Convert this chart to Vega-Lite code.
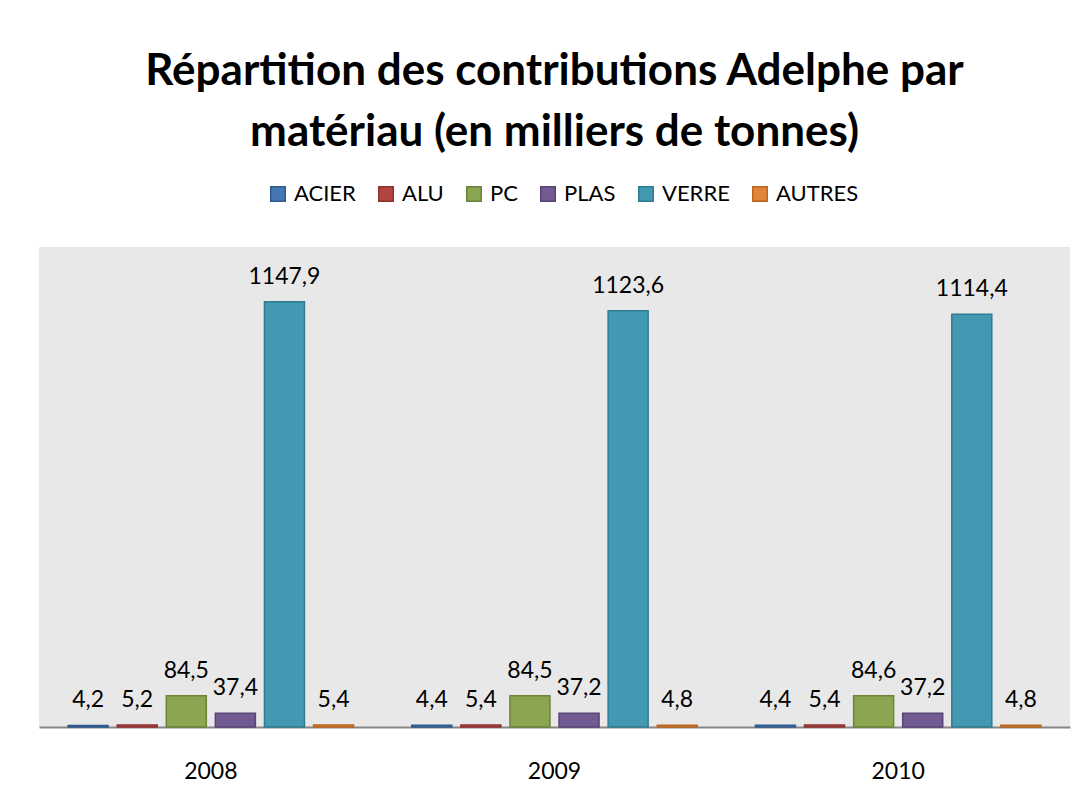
{
  "$schema": "https://vega.github.io/schema/vega-lite/v6.json",
  "width": 1031,
  "height": 480,
  "autosize": {"type": "none"},
  "padding": {"left": 39, "top": 247, "right": 19, "bottom": 82},
  "background": "white",
  "title": {
    "text": ["Répartition des contributions Adelphe par", "matériau (en milliers de tonnes)"],
    "font": "Lato",
    "fontSize": 44,
    "fontWeight": "bold",
    "color": "#000000",
    "lineHeight": 61,
    "anchor": "middle",
    "frame": "group",
    "offset": 28
  },
  "data": {
    "values": [
      {"annee": "2008", "materiau": "ACIER", "valeur": 4.2},
      {"annee": "2008", "materiau": "ALU", "valeur": 5.2},
      {"annee": "2008", "materiau": "PC", "valeur": 84.5},
      {"annee": "2008", "materiau": "PLAS", "valeur": 37.4},
      {"annee": "2008", "materiau": "VERRE", "valeur": 1147.9},
      {"annee": "2008", "materiau": "AUTRES", "valeur": 5.4},
      {"annee": "2009", "materiau": "ACIER", "valeur": 4.4},
      {"annee": "2009", "materiau": "ALU", "valeur": 5.4},
      {"annee": "2009", "materiau": "PC", "valeur": 84.5},
      {"annee": "2009", "materiau": "PLAS", "valeur": 37.2},
      {"annee": "2009", "materiau": "VERRE", "valeur": 1123.6},
      {"annee": "2009", "materiau": "AUTRES", "valeur": 4.8},
      {"annee": "2010", "materiau": "ACIER", "valeur": 4.4},
      {"annee": "2010", "materiau": "ALU", "valeur": 5.4},
      {"annee": "2010", "materiau": "PC", "valeur": 84.6},
      {"annee": "2010", "materiau": "PLAS", "valeur": 37.2},
      {"annee": "2010", "materiau": "VERRE", "valeur": 1114.4},
      {"annee": "2010", "materiau": "AUTRES", "valeur": 4.8}
    ]
  },
  "encoding": {
    "x": {
      "field": "annee",
      "type": "nominal",
      "scale": {"paddingInner": 0, "paddingOuter": 0},
      "axis": {
        "title": null,
        "labelAngle": 0,
        "ticks": false,
        "domainColor": "#868686",
        "domainWidth": 2,
        "labelFont": "Lato",
        "labelFontSize": 23,
        "labelColor": "#000000",
        "labelPadding": 33,
        "grid": false
      }
    },
    "xOffset": {
      "field": "materiau",
      "type": "nominal",
      "sort": ["ACIER", "ALU", "PC", "PLAS", "VERRE", "AUTRES"],
      "scale": {"paddingInner": 0.185, "paddingOuter": 0.593}
    },
    "y": {
      "field": "valeur",
      "type": "quantitative",
      "scale": {"domain": [0, 1296], "nice": false},
      "axis": null
    }
  },
  "layer": [
    {
      "mark": {"type": "bar", "strokeWidth": 1.5},
      "encoding": {
        "color": {
          "field": "materiau",
          "type": "nominal",
          "sort": ["ACIER", "ALU", "PC", "PLAS", "VERRE", "AUTRES"],
          "scale": {
            "domain": ["ACIER", "ALU", "PC", "PLAS", "VERRE", "AUTRES"],
            "range": ["#4677B3", "#B24542", "#8AA650", "#735A93", "#4399B1", "#E2843A"]
          },
          "legend": {
            "title": null,
            "orient": "none",
            "direction": "horizontal",
            "legendX": 228,
            "legendY": -64,
            "symbolType": "square",
            "symbolSize": 210,
            "symbolStrokeWidth": 1.5,
            "labelFont": "Lato",
            "labelFontSize": 22,
            "labelColor": "#000000",
            "labelOffset": 5,
            "columnPadding": 19
          }
        },
        "stroke": {
          "field": "materiau",
          "type": "nominal",
          "sort": ["ACIER", "ALU", "PC", "PLAS", "VERRE", "AUTRES"],
          "scale": {
            "domain": ["ACIER", "ALU", "PC", "PLAS", "VERRE", "AUTRES"],
            "range": ["#2F5A8E", "#8E3230", "#6B843A", "#574476", "#2E7C92", "#B9661F"]
          },
          "legend": null
        }
      }
    },
    {
      "mark": {"type": "text", "baseline": "alphabetic", "dy": -18, "font": "Lato", "fontSize": 23, "color": "#000000"},
      "encoding": {
        "text": {"field": "valeur", "type": "quantitative", "format": ".1f"}
      }
    }
  ],
  "config": {
    "view": {"fill": "#E8E8E8", "stroke": null},
    "locale": {"number": {"decimal": ",", "thousands": " ", "grouping": [3], "currency": ["", " €"]}}
  }
}
